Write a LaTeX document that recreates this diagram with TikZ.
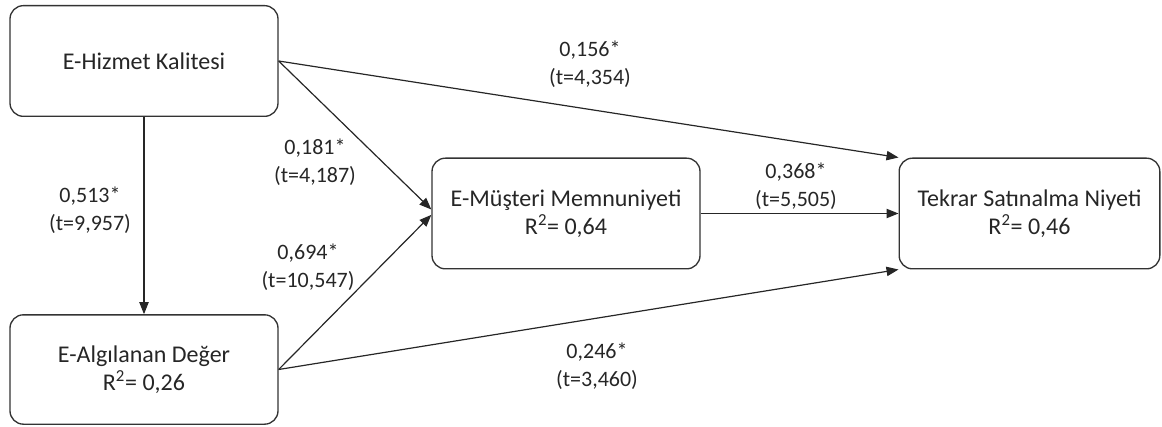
\documentclass[tikz,border=0pt]{standalone}
\usepackage{fontspec}
\setmainfont{Carlito}
\usetikzlibrary{arrows.meta}
\tikzset{
  kutu/.style={draw=black!80, line width=1pt, rounded corners=10pt, fill=white,
    inner sep=0pt, minimum width=201pt, minimum height=83pt, align=center,
    text=black!85, font=\fontsize{18}{21}\selectfont},
  katsayi/.style={align=center, inner sep=1pt, text=black!85,
    font=\fontsize{16.5}{21}\selectfont},
  yol/.style={draw=black!85, line width=0.9pt, -{Triangle[length=9pt,width=7pt]}}
}
\begin{document}
\begin{tikzpicture}[x=0.75pt,y=-0.75pt]
          \useasboundingbox (0,0) rectangle (1162,427);
          \node[kutu] (ehk) at (144,61){E-Hizmet Kalitesi};
          \node[kutu, minimum height=82pt] (ead) at (144,369.5){E-Algılanan Değer\\R\textsuperscript{2}= 0,26};
          \node[kutu] (emm) at (566,213.5){E-Müşteri Memnuniyeti\\R\textsuperscript{2}= 0,64};
          \node[kutu, minimum width=195.5pt] (tsn) at (1029.5,213.5){Tekrar Satınalma Niyeti\\R\textsuperscript{2}= 0,46};
          \draw[yol](ehk.south) -- (ead.north);
          \draw[yol](ehk.east) -- ([yshift=3pt]emm.west);
          \draw[yol](ead.east) -- ([yshift=-1pt]emm.west);
          \draw[yol](ehk.east) -- (tsn.north west);
          \draw[yol](ead.east) -- (tsn.south west);
          \draw[yol](emm.east) -- (tsn.west);
          \node[katsayi] (k1) at (590,64.5){0,156*\\(t=4,354)};
          \node[katsayi] (k2) at (315,162){0,181*\\(t=4,187)};
          \node[katsayi] (k3) at (90,210){0,513*\\(t=9,957)};
          \node[katsayi] (k4) at (308,267){0,694*\\(t=10,547)};
          \node[katsayi] (k5) at (796,186){0,368*\\(t=5,505)};
          \node[katsayi] (k6) at (597,366.5){0,246*\\(t=3,460)};
        \end{tikzpicture}
\end{document}
